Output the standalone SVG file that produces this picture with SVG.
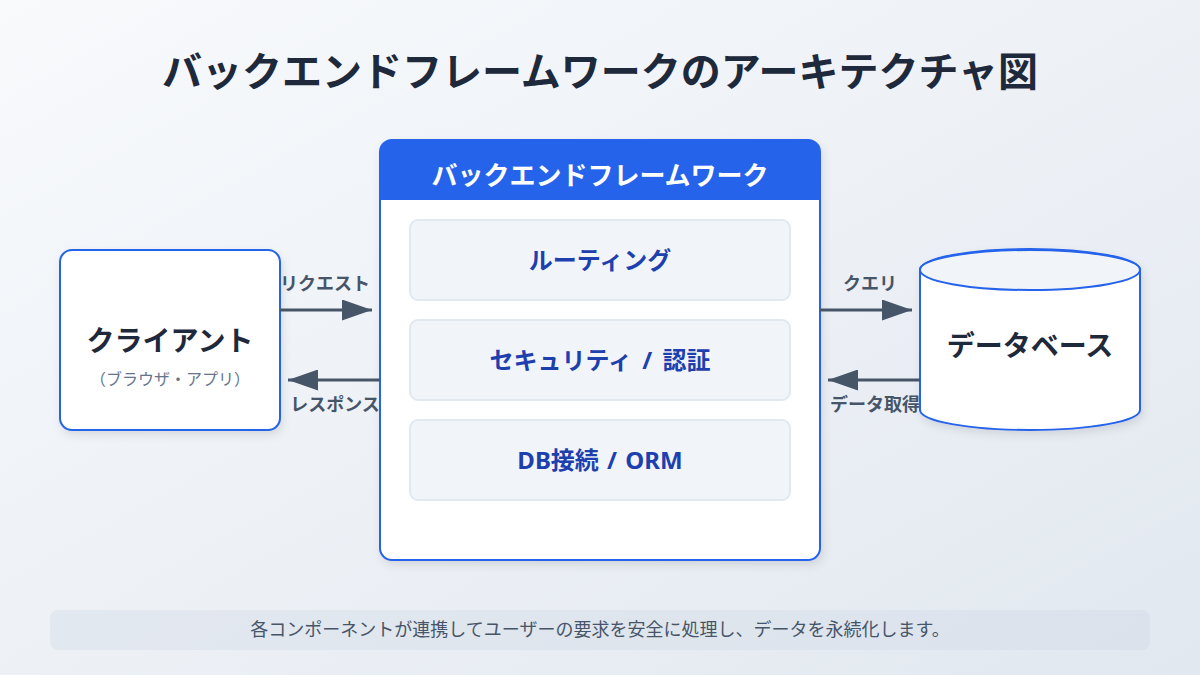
<svg xmlns="http://www.w3.org/2000/svg" width="1200" height="675" viewBox="0 0 1200 675">
<defs>
<linearGradient id="bg" x1="0" y1="0" x2="1" y2="1"><stop offset="0" stop-color="#f8fafc"/><stop offset="1" stop-color="#e2e8f0"/></linearGradient>
<filter id="sh" x="-10%" y="-10%" width="120%" height="120%"><feDropShadow dx="2" dy="4" stdDeviation="4" flood-color="#000" flood-opacity="0.1"/></filter>
<marker id="arrow" markerWidth="10" markerHeight="7" refX="10" refY="3.5" orient="auto"><polygon points="0 0,10 3.5,0 7" fill="#475569"/></marker>
</defs>
<style>
text{font-family:"Noto Sans","Noto Sans CJK JP",sans-serif;text-anchor:middle}
.box{fill:#fff;stroke:#2563eb;stroke-width:2}
.mod{fill:#f1f5f9;stroke:#e2e8f0;stroke-width:2}
.modt{font-size:24px;font-weight:600;fill:#1e40af}
.lat{font-weight:700}
.nt{font-size:28px;font-weight:600;fill:#1e293b}
.lbl{font-size:18px;font-weight:600;fill:#475569}
.ln{stroke:#475569;stroke-width:3;fill:none;marker-end:url(#arrow)}
</style>
<rect width="1200" height="675" fill="url(#bg)"/>
<text x="600" y="86" font-size="40" font-weight="600" fill="#1e293b" id="title">バックエンドフレームワークのアーキテクチャ図</text>
<g id="client">
<rect class="box" x="60" y="250" width="220" height="180" rx="12" filter="url(#sh)"/>
<text class="nt" x="170" y="351">クライアント</text>
<text x="170" y="385" font-size="16" fill="#64748b">（ブラウザ・アプリ）</text>
</g>
<g id="framework">
<rect class="box" x="380" y="140" width="440" height="420" rx="12" filter="url(#sh)"/>
<path d="M380 200V152a12 12 0 0 1 12-12H808a12 12 0 0 1 12 12V200Z" fill="#2563eb"/>
<text x="600" y="185" font-size="26" font-weight="600" fill="#fff">バックエンドフレームワーク</text>
</g>
<g id="routing"><rect class="mod" x="410" y="220" width="380" height="80" rx="8"/><text class="modt" x="600" y="269">ルーティング</text></g>
<g id="security"><rect class="mod" x="410" y="320" width="380" height="80" rx="8"/><text class="modt" x="600" y="369" word-spacing="4">セキュリティ <tspan class="lat">/</tspan> 認証</text></g>
<g id="orm"><rect class="mod" x="410" y="420" width="380" height="80" rx="8"/><text class="modt" x="600" y="469" word-spacing="2"><tspan class="lat">DB</tspan>接続 <tspan class="lat">/ ORM</tspan></text></g>
<g id="database">
<path class="box" d="M920 270V410C920 421 969 430 1030 430S1140 421 1140 410V270C1140 258 1089 249 1030 249S920 258 920 270Z" filter="url(#sh)"/>
<ellipse cx="1030" cy="270" rx="110" ry="20" fill="#f1f5f9" stroke="#2563eb" stroke-width="2"/>
<text class="nt" x="1030" y="356">データベース</text>
</g>
<g id="connectors">
<line class="ln" x1="280" y1="310" x2="372" y2="310"/>
<line class="ln" x1="380" y1="380" x2="288" y2="380"/>
<line class="ln" x1="820" y1="310" x2="912" y2="310"/>
<line class="ln" x1="920" y1="380" x2="828" y2="380"/>
</g>
<g id="labels">
<text class="lbl" x="325" y="290">リクエスト</text>
<text class="lbl" x="335" y="411">レスポンス</text>
<text class="lbl" x="870" y="290">クエリ</text>
<text class="lbl" x="875" y="411">データ取得</text>
</g>
<g id="footer">
<rect x="50" y="610" width="1100" height="40" rx="8" fill="#cbd5e1" opacity="0.3"/>
<text x="600" y="636" font-size="18" fill="#475569">各コンポーネントが連携してユーザーの要求を安全に処理し、データを永続化します。</text>
</g>
</svg>
